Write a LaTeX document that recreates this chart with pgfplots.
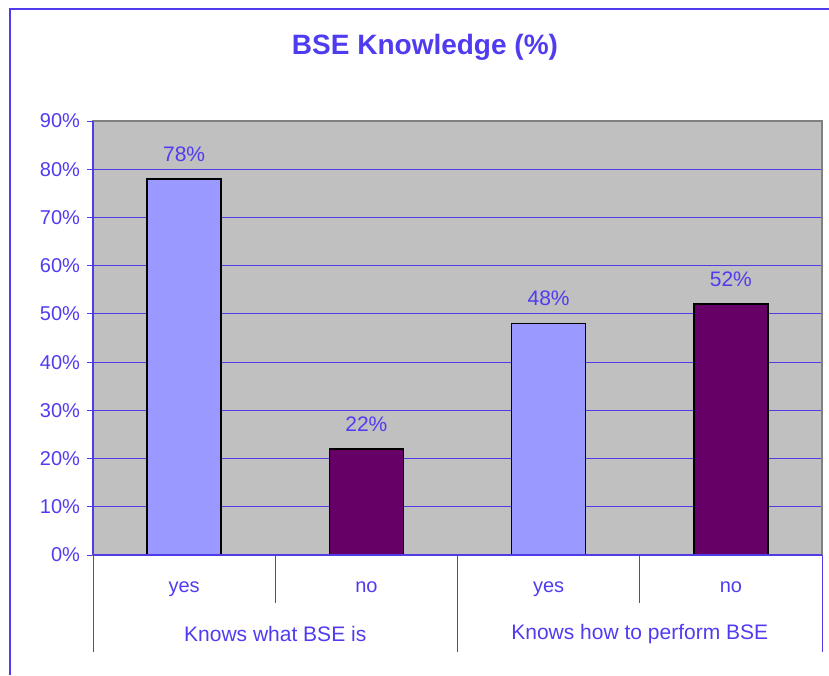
\documentclass[border=0pt]{standalone}
\usepackage{pgfplots}
\pgfplotsset{compat=1.18}
\usepackage{fontspec}
\setmainfont{Liberation Sans}
\definecolor{txt}{RGB}{80,60,240}
\definecolor{gridc}{RGB}{80,60,230}
\definecolor{barA}{RGB}{153,153,255}
\definecolor{barB}{RGB}{102,0,102}
\definecolor{plotbg}{RGB}{192,192,192}
\begin{document}
\begin{tikzpicture}
\path[use as bounding box] (0,0) rectangle (414.5pt,337.5pt);
\draw[txt, line width=1pt] (5pt,0) -- (5pt,333pt) -- (414.5pt,333pt);
\node[txt, font=\bfseries\fontsize{14}{16}\selectfont] at (212.5pt,314pt) {BSE Knowledge (\%)};
\begin{axis}[
  at={(46.5pt,60pt)}, anchor=south west,
  scale only axis, width=364.5pt, height=217pt,
  xmin=-0.5, xmax=3.5, ymin=0, ymax=90,
  ytick={0,10,...,90},
  yticklabel={\pgfmathprintnumber{\tick}\%},
  xtick={0,1,2,3}, xticklabels={yes,no,yes,no},
  x tick label style={yshift=-7pt},
  major x tick style={draw=none},
  y tick style={draw=txt, line width=0.5pt},
  tick align=outside, ytick pos=left, major tick length=3pt,
  ymajorgrids, grid style={draw=gridc, line width=0.5pt},
  axis line style={draw=gray, line width=0.6pt},
  axis background/.style={fill=plotbg},
  tick label style={txt, font=\fontsize{10}{11}\selectfont},
  /pgf/number format/assume math mode=true,
  ybar, bar width=37pt, bar shift=0pt,
  clip=false,
  nodes near coords={\pgfmathprintnumber{\pgfplotspointmeta}\%},
  nodes near coords style={txt, font=\fontsize{10.5}{12}\selectfont, anchor=south, yshift=5pt},
]
\addplot[fill=barA, draw=black, line width=0.8pt] coordinates {(0,78) (2,48)};
\addplot[fill=barB, draw=black, line width=0.8pt] coordinates {(1,22) (3,52)};
\draw[gridc, line width=0.5pt] (axis cs:-0.5,0) -- ([yshift=-48.5pt]axis cs:-0.5,0);
\draw[gridc, line width=0.5pt] (axis cs:1.5,0) -- ([yshift=-48.5pt]axis cs:1.5,0);
\draw[gridc, line width=0.5pt] (axis cs:3.5,0) -- ([yshift=-48.5pt]axis cs:3.5,0);
\draw[gridc, line width=0.5pt] (axis cs:0.5,0) -- ([yshift=-24pt]axis cs:0.5,0);
\draw[gridc, line width=0.5pt] (axis cs:2.5,0) -- ([yshift=-24pt]axis cs:2.5,0);
\draw[gridc, line width=0.6pt] (axis cs:-0.5,0) -- (axis cs:-0.5,90);
\draw[gridc, line width=0.6pt] (axis cs:-0.5,0) -- (axis cs:3.5,0);
\node[txt, font=\fontsize{10.5}{12}\selectfont] at ([yshift=-39.5pt]axis cs:0.5,0) {Knows what BSE is};
\node[txt, font=\fontsize{10.5}{12}\selectfont] at ([yshift=-39.5pt]axis cs:2.5,0) {Knows how to perform BSE};
\end{axis}
\end{tikzpicture}
\end{document}
